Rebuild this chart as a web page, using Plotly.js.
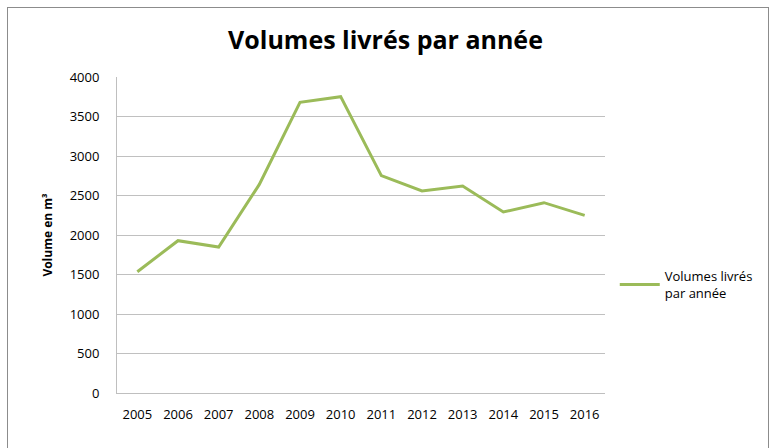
<!DOCTYPE html>
<html><head><meta charset="utf-8">
<script src="https://cdn.plot.ly/plotly-3.0.1.min.js"></script>
<style>
html,body{margin:0;padding:0;background:#fff;}
#wrap{position:relative;width:771px;height:448px;overflow:hidden;}
#chart{position:absolute;left:0;top:0;width:771px;height:448px;}
#frame{position:absolute;left:7px;top:7px;width:760px;height:460px;border:1px solid #8c8c8c;pointer-events:none;}
</style></head>
<body>
<div id="wrap"><div id="chart"></div><div id="frame"></div></div>
<script>
const years = ['2005','2006','2007','2008','2009','2010','2011','2012','2013','2014','2015','2016'];
const volumes = [1535, 1928, 1848, 2640, 3680, 3751, 2751, 2557, 2620, 2291, 2409, 2249];
const seriesName = 'Volumes livrés<br>par année';
const yTicks = [0, 500, 1000, 1500, 2000, 2500, 3000, 3500, 4000];

Plotly.newPlot('chart', [{
  x: years, y: volumes, type: 'scatter', mode: 'lines', name: seriesName,
  line: {color: '#9bbb59', width: 3}
}], {
  width: 771, height: 448,
  margin: {l: 117, r: 166, t: 77, b: 55},
  paper_bgcolor: '#fff', plot_bgcolor: '#fff',
  title: {text: '<b>Volumes livrés par année</b>', x: 0.5, xanchor: 'center', y: 0.91, yanchor: 'middle',
          font: {family: 'Open Sans, sans-serif', size: 25, color: '#000'}},
  font: {family: 'Open Sans, sans-serif', color: '#000'},
  xaxis: {type: 'category', range: [-0.5, 11.5], showgrid: false, showline: true, linecolor: '#bfbfbf', linewidth: 1,
          ticks: '', ticklabelstandoff: 9, tickfont: {size: 13, color: '#000'}, fixedrange: true},
  yaxis: {range: [0, 4000], tickvals: yTicks, showgrid: true, gridcolor: '#c0c0c0', gridwidth: 1,
          showline: true, linecolor: '#bfbfbf', zeroline: false, ticks: '', ticklabelstandoff: 14,
          tickfont: {size: 13, color: '#000'},
          title: {text: '<b>Volume en m³</b>', font: {size: 12, color: '#000'}, standoff: 14}},
  showlegend: true,
  legend: {x: 1.02, xanchor: 'left', y: 0.343, yanchor: 'middle', font: {size: 13, color: '#000'},
           bgcolor: 'rgba(0,0,0,0)', itemwidth: 40}
}, {displayModeBar: false, staticPlot: true});
</script>
</body></html>
